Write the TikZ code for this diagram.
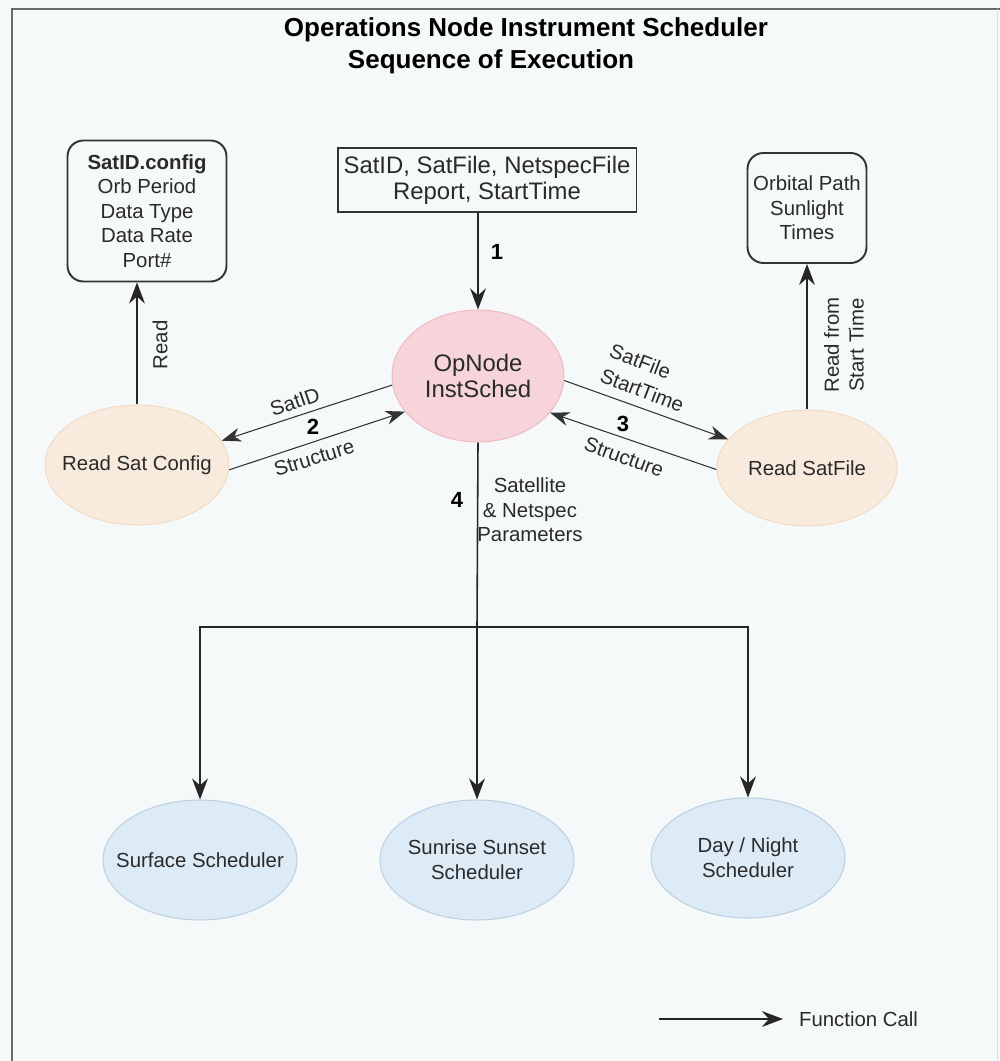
\documentclass[tikz,border=0pt]{standalone}
\usepackage{fontspec}
\setmainfont{Liberation Sans}
\usetikzlibrary{arrows.meta,shapes.geometric}

\definecolor{bgcol}{HTML}{F6F9F9}
\definecolor{framecol}{HTML}{6A6A6A}
\definecolor{txtcol}{HTML}{2A2A2A}
\definecolor{pinkfill}{HTML}{F7D4DA}
\definecolor{pinkline}{HTML}{EDBCC5}
\definecolor{peachfill}{HTML}{F8EBDD}
\definecolor{peachline}{HTML}{F1DCC6}
\definecolor{bluefill}{HTML}{DDEBF7}
\definecolor{blueline}{HTML}{BCD0E3}

\newcommand{\lbltxt}{\fontsize{11.6}{14}\selectfont}
\newcommand{\bigtxt}{\fontsize{13.6}{14.8}\selectfont}

\tikzset{
  title/.style={font=\fontsize{14.8}{16}\selectfont\bfseries, text=black, inner sep=0pt},
  lbl/.style={font=\lbltxt, text=txtcol, inner sep=1pt},
  num/.style={font=\fontsize{12.5}{14}\selectfont\bfseries, text=black, inner sep=1pt},
  rbox/.style={draw=black!80, line width=1.1pt, rounded corners=9pt, align=center,
    font=\lbltxt, text=txtcol, inner sep=0pt},
  sqbox/.style={draw=black!80, line width=1.1pt, align=center, font=\bigtxt,
    text=txtcol, inner sep=0pt},
  oval/.style={ellipse, line width=0.6pt, inner sep=0pt},
  ovtxt/.style={font=\lbltxt, text=txtcol, align=center, inner sep=0pt},
  call/.style={-{Stealth[length=12pt,width=9pt,inset=4pt]}, line width=0.9pt, draw=black!85},
  thincall/.style={-{Stealth[length=11pt,width=8pt,inset=3.5pt]}, line width=0.6pt, draw=black!80}
}

\begin{document}
\begin{tikzpicture}[x=0.02cm,y=-0.02cm]
\useasboundingbox (0,0) rectangle (1000,1061);
\fill[bgcol] (0,0) rectangle (1000,1061);
% frame
\draw[framecol, line width=1.6pt] (12,1061) -- (12,9) -- (1000,9);
\draw[black!12, line width=0.5pt] (997,9) -- (997,1061);

% title
\node[title] (t1) at (526,30) {Operations Node Instrument Scheduler};
\node[title] (t2) at (491,62) {Sequence of Execution};

% data boxes
\node[rbox, minimum width=3.18cm, minimum height=2.82cm] (cfg) at (147,211)
  {\textbf{SatID.config}\\Orb Period\\Data Type\\Data Rate\\Port\#};
\node[sqbox, minimum width=5.98cm, minimum height=1.28cm] (inp) at (487,180)
  {SatID, SatFile, NetspecFile\\Report, StartTime};
\node[rbox, minimum width=2.38cm, minimum height=2.2cm] (orb) at (807,208)
  {Orbital Path\\Sunlight\\Times};

% functions
\node[oval, fill=pinkfill, draw=pinkline, minimum width=3.44cm, minimum height=2.64cm,
  label={[ovtxt, font=\bigtxt]center:OpNode\\InstSched}] (op) at (478,376) {};
\node[oval, fill=peachfill, draw=peachline, minimum width=3.68cm, minimum height=2.4cm,
  label={[ovtxt]center:Read Sat Config}] (rsc) at (137,465) {};
\node[oval, fill=peachfill, draw=peachline, minimum width=3.6cm, minimum height=2.32cm,
  label={[ovtxt]center:Read SatFile}] (rsf) at (807,468) {};

\node[oval, fill=bluefill, draw=blueline, minimum width=3.88cm, minimum height=2.4cm,
  label={[ovtxt]center:Surface Scheduler}] (surf) at (200,860) {};
\node[oval, fill=bluefill, draw=blueline, minimum width=3.88cm, minimum height=2.4cm,
  label={[ovtxt]center:Sunrise Sunset\\Scheduler}] (sun) at (477,860) {};
\node[oval, fill=bluefill, draw=blueline, minimum width=3.88cm, minimum height=2.4cm,
  label={[ovtxt]center:Day / Night\\Scheduler}] (dn) at (748,858) {};

% 1
\draw[call] (inp.south -| op.north) -- (op.north);
\node[num] (n1) at (497,252) {1};

% reads
\draw[call] (rsc.north) -- (rsc.north |- cfg.south);
\node[lbl, rotate=90] (rd) at (160,345) {Read};
\draw[call] (rsf.north) -- (orb.south);
\node[lbl, rotate=90, align=center] (rdst) at (844,345) {Read from\\Start Time};

% 2
\draw[thincall] (op.186) -- (rsc.16);
\draw[thincall] (rsc.357) -- (op.206);
\node[lbl, rotate=19] (sid) at (295,402) {SatID};
\node[num] (n2) at (313,427) {2};
\node[lbl, rotate=17] (st2) at (314,458) {Structure};

% 3
\draw[thincall] (op.357) -- (rsf.160);
\draw[thincall] (rsf.181) -- (op.333);
\node[lbl, rotate=-21, align=left, font=\fontsize{11.6}{15}\selectfont] (sfst) at (647,378) {SatFile\\StartTime};
\node[num] (n3) at (623,424) {3};
\node[lbl, rotate=-20] (st3) at (624,457) {Structure};

% 4
\coordinate (split) at (477,627);
\draw[line width=0.9pt, black!85] (op.south) -- (split);
\draw[call] (split) -| (surf.north);
\draw[call] (split) -- (sun.north);
\draw[call] (split) -| (dn.north);
\node[num] (n4) at (457,500) {4};
\node[lbl, align=center] (par) at (530,510) {Satellite\\\& Netspec\\Parameters};

% legend
\coordinate (lgs) at (659,1019);
\coordinate (lge) at (783,1019);
\draw[call] (lgs) -- (lge);
\node[lbl, anchor=west] (fcall) at (797,1019) {Function Call};
\end{tikzpicture}
\end{document}
